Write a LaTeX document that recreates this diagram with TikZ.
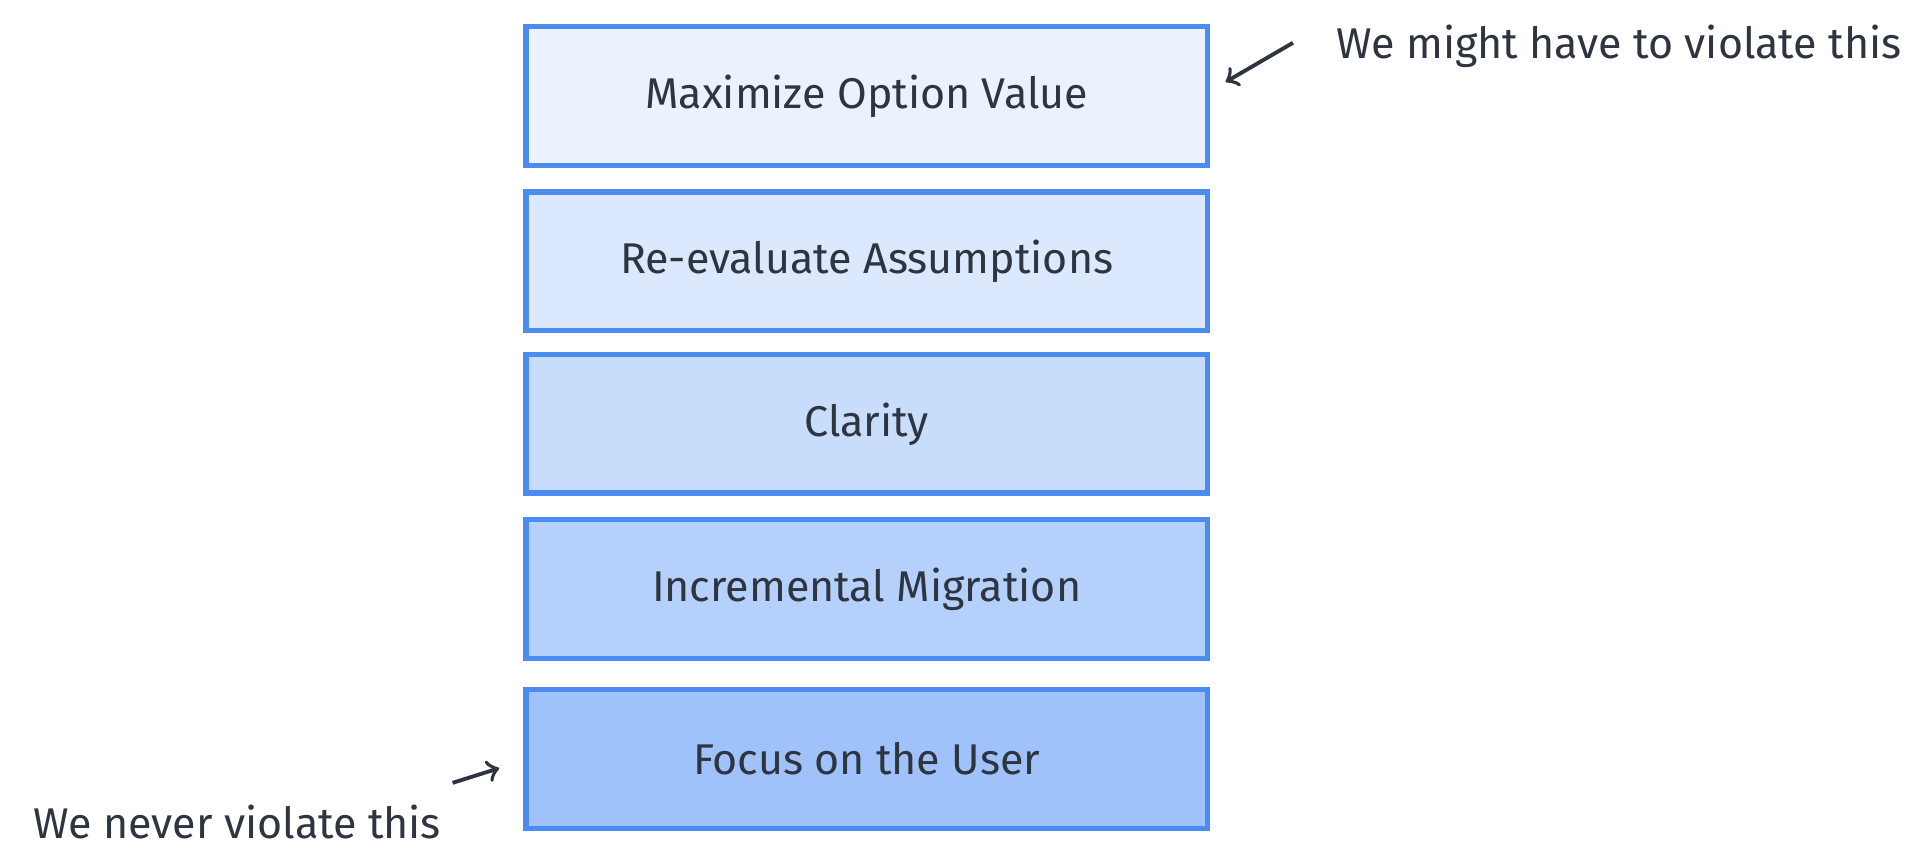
\documentclass[tikz,border=0pt]{standalone}
\usepackage{fontspec}
\setmainfont{Fira Sans}
\usetikzlibrary{positioning}
\definecolor{edgeblue}{HTML}{4A8CF0}
\definecolor{textgray}{HTML}{2E3440}
\definecolor{fillA}{HTML}{EBF2FE}
\definecolor{fillB}{HTML}{DCE8FD}
\definecolor{fillC}{HTML}{C8DCFC}
\definecolor{fillD}{HTML}{B4D0FB}
\definecolor{fillE}{HTML}{A0C2FA}
\tikzset{
  layer/.style={draw=edgeblue, line width=1.2pt, minimum width=5.57cm, minimum height=1.13cm,
    text=textgray, font=\fontsize{10}{12}\selectfont},
  note/.style={text=textgray, font=\fontsize{10}{12}\selectfont},
  pointer/.style={->, line width=0.9pt, draw=textgray}
}
\begin{document}
\begin{tikzpicture}
        \useasboundingbox (0,0) rectangle (15.68,-7.08);
        % Schichten
        \node[layer, fill=fillA] (option) at (7.085,-0.785) {Maximize Option Value};
        \node[layer, fill=fillB] (assume) at (7.085,-2.135) {Re-evaluate Assumptions};
        \node[layer, fill=fillC] (clarity) at (7.085,-3.465) {Clarity};
        \node[layer, fill=fillD] (migrate) at (7.085,-4.815) {Incremental Migration};
        \node[layer, fill=fillE] (user) at (7.085,-6.205) {Focus on the User};

        % Hinweise
        \node[note, anchor=west] (might) at (10.8,-0.38) {We might have to violate this};
        \node[note, anchor=west] (never) at (0.15,-6.72) {We never violate this};
        \coordinate (mightTail) at (10.57,-0.35);
        \coordinate (neverTail) at (3.70,-6.40);

        \draw[pointer] (mightTail) -- (10.02,-0.67);
        \draw[pointer] (neverTail) -- (4.08,-6.28);
    \end{tikzpicture}
\end{document}
